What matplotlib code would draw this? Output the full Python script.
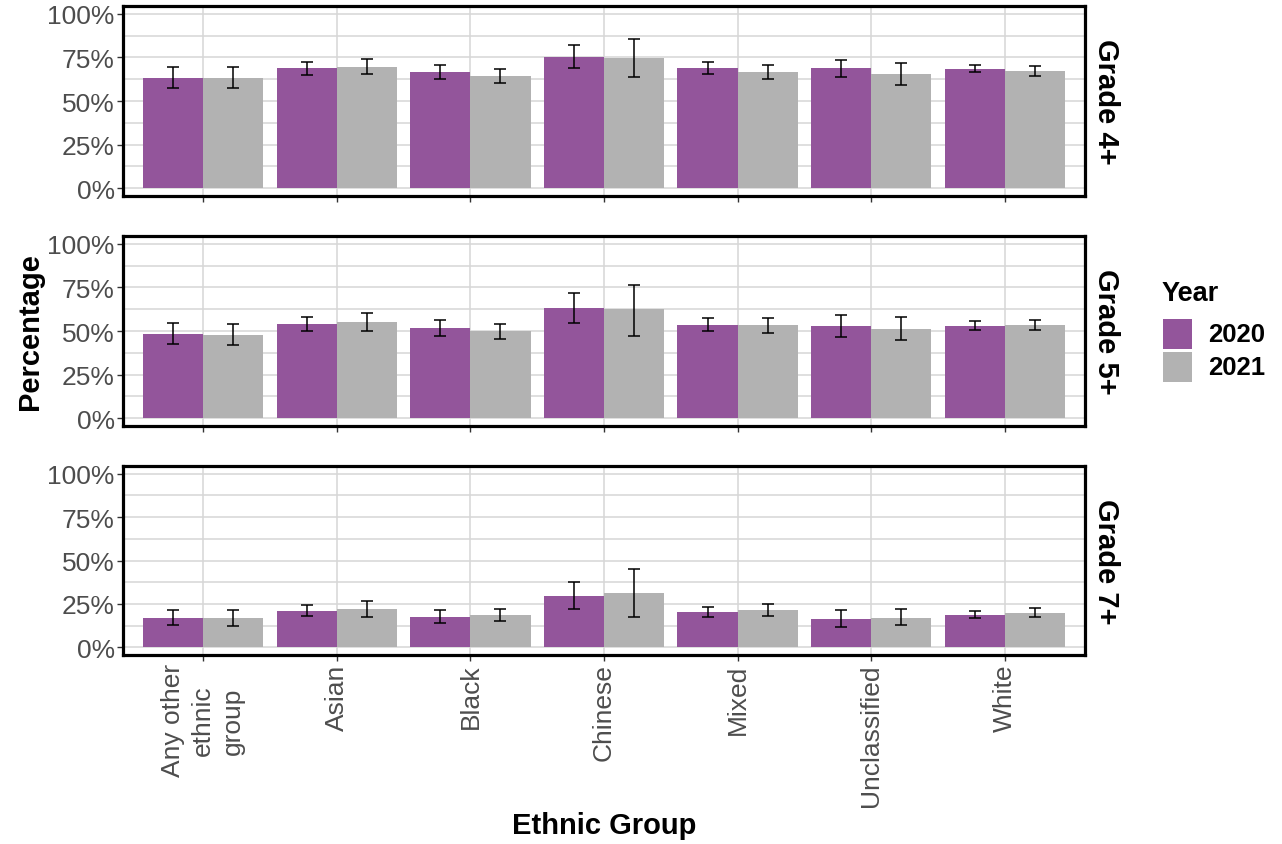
import matplotlib
matplotlib.use("Agg")
import matplotlib.pyplot as plt
import numpy as np
from matplotlib.patches import Rectangle
from matplotlib.ticker import FixedLocator, PercentFormatter

plt.rcParams["font.family"] = ["Liberation Sans", "DejaVu Sans"]

GROUPS = ["Any other\nethnic\ngroup", "Asian", "Black", "Chinese", "Mixed",
          "Unclassified", "White"]
YEARS = ["2020", "2021"]
GRADES = ["Grade 4+", "Grade 5+", "Grade 7+"]

# percentages, per grade: value, lower and upper bound of the error bar
g4_2020 = [63.4, 69.1, 66.9, 75.4, 69.1, 69.1, 68.6]
g4_2020_lo = [57.5, 65.0, 62.7, 69.0, 65.7, 63.8, 66.5]
g4_2020_hi = [69.5, 72.6, 70.5, 81.9, 72.4, 73.5, 70.7]
g4_2021 = [63.4, 69.7, 64.6, 74.7, 66.9, 65.7, 67.4]
g4_2021_lo = [57.3, 65.3, 60.4, 63.6, 62.7, 59.0, 64.6]
g4_2021_hi = [69.7, 74.1, 68.6, 85.7, 70.7, 71.6, 70.3]

g5_2020 = [48.3, 54.0, 51.7, 63.2, 53.4, 52.9, 52.9]
g5_2020_lo = [42.3, 50.2, 46.9, 54.8, 50.0, 46.6, 50.6]
g5_2020_hi = [54.6, 58.2, 56.1, 71.6, 57.7, 59.0, 55.9]
g5_2021 = [47.7, 55.2, 50.0, 62.5, 53.4, 51.1, 53.4]
g5_2021_lo = [41.8, 50.2, 45.6, 47.3, 48.7, 44.8, 50.6]
g5_2021_hi = [54.0, 60.2, 54.2, 76.6, 57.7, 57.9, 56.1]

g7_2020 = [17.0, 21.1, 17.6, 29.7, 20.5, 16.5, 18.8]
g7_2020_lo = [12.6, 17.8, 14.2, 22.2, 17.6, 11.9, 16.9]
g7_2020_hi = [21.5, 24.5, 21.3, 37.4, 23.2, 21.3, 20.7]
g7_2021 = [17.0, 22.2, 18.8, 31.4, 21.6, 17.0, 19.9]
g7_2021_lo = [12.3, 17.6, 15.1, 17.4, 18.0, 12.6, 17.4]
g7_2021_hi = [21.5, 26.4, 21.8, 45.0, 24.7, 21.8, 22.6]

PANELS = [
    [(g4_2020, g4_2020_lo, g4_2020_hi), (g4_2021, g4_2021_lo, g4_2021_hi)],
    [(g5_2020, g5_2020_lo, g5_2020_hi), (g5_2021, g5_2021_lo, g5_2021_hi)],
    [(g7_2020, g7_2020_lo, g7_2020_hi), (g7_2021, g7_2021_lo, g7_2021_hi)],
]

COLORS = ["#93559B", "#B2B2B2"]
GRID = "#D6D6D6"
TICK_TXT = "#4D4D4D"

W, H = 1282, 845
fig = plt.figure(figsize=(W / 100, H / 100), dpi=100)

# panel boxes in pixels: (top, bottom)
boxes = [(7, 197), (237, 427), (467, 656)]
left_px, right_px = 123, 1085

x = np.arange(len(GROUPS))
bw = 0.45

for i, (grade, series) in enumerate(zip(GRADES, PANELS)):
    top, bot = boxes[i]
    ax = fig.add_axes([left_px / W, 1 - bot / H, (right_px - left_px) / W,
                       (bot - top) / H])
    for j, (vals, lo, hi) in enumerate(series):
        vals, lo, hi = np.array(vals), np.array(lo), np.array(hi)
        xs = x + (j - 0.5) * bw
        ax.bar(xs, vals, width=bw, color=COLORS[j], zorder=2, linewidth=0)
        ax.errorbar(xs, vals, yerr=[vals - lo, hi - vals], fmt="none",
                    ecolor="black", elinewidth=1.1, capsize=4.6,
                    capthick=1.1, zorder=3)
    ax.set_xlim(-0.6, len(GROUPS) - 0.4)
    ax.set_ylim(-4.5, 104.5)
    ax.yaxis.set_major_locator(FixedLocator([0, 25, 50, 75, 100]))
    ax.yaxis.set_minor_locator(FixedLocator([12.5, 37.5, 62.5, 87.5]))
    ax.yaxis.set_major_formatter(PercentFormatter(decimals=0))
    ax.set_xticks(x)
    ax.grid(True, which="both", color=GRID, linewidth=1.1, zorder=0)
    ax.set_axisbelow(True)
    for sp in ax.spines.values():
        sp.set_color("black")
        sp.set_linewidth(2.3)
    ax.tick_params(axis="both", which="major", length=4, width=1,
                   color="#333333", labelsize=19, labelcolor=TICK_TXT, pad=2)
    ax.tick_params(axis="y", which="minor", length=0)
    if i < 2:
        ax.set_xticklabels([])
    else:
        ax.set_xticklabels(GROUPS, rotation=90, ha="center", va="top",
                           multialignment="center", linespacing=1.3)
    ax.text(1.007, 0.5, grade, transform=ax.transAxes, rotation=-90,
            ha="left", va="center", fontsize=21, fontweight="bold")

fig.text(30 / W, 1 - 332 / H, "Percentage", rotation=90, ha="center",
         va="center", fontsize=21, fontweight="bold")
fig.text(604 / W, 1 - 826 / H, "Ethnic Group", ha="center", va="center",
         fontsize=21, fontweight="bold")

# legend drawn by hand so keys and labels sit where the reference has them
fig.text(1162 / W, 1 - 294 / H, "Year", ha="left", va="center",
         fontsize=19.5, fontweight="bold")
for k, (lab, col) in enumerate(zip(YEARS, COLORS)):
    ky = 320 + k * 33
    fig.add_artist(Rectangle((1163 / W, 1 - (ky + 30) / H), 29 / W, 30 / H,
                             transform=fig.transFigure, facecolor=col,
                             edgecolor="none"))
    fig.text(1208 / W, 1 - (ky + 15) / H, lab, ha="left", va="center",
             fontsize=18.5, fontweight="bold")

fig.savefig("out.png", dpi=100)
